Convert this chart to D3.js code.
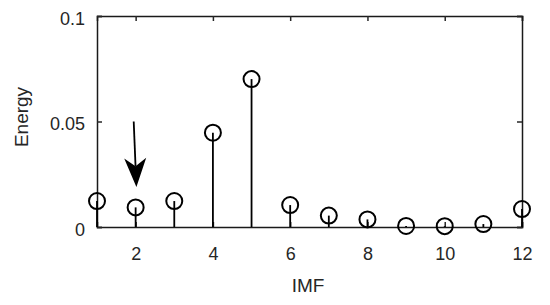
<!DOCTYPE html>
<html>
<head>
<meta charset="utf-8">
<script src="https://cdn.jsdelivr.net/npm/d3@7.9.0/dist/d3.min.js"></script>
<style>
  body { margin: 0; background: #fff; }
  text { font-family: "Liberation Sans", Arial, sans-serif; fill: #262626; }
</style>
</head>
<body>
<div id="chart"></div>
<script>
const imf = [1, 2, 3, 4, 5, 6, 7, 8, 9, 10, 11, 12];
const energy = [0.0123, 0.0093, 0.0123, 0.0447, 0.0701, 0.0104, 0.0054, 0.0036, 0.0005, 0.0004, 0.0014, 0.0085];
const xTicks = [2, 4, 6, 8, 10, 12];
const yTicks = [0, 0.05, 0.1];
// arrow pointing at IMF 2 (data coords)
const arrow = { x1: 1.95, y1: 0.05, x2: 2.02, y2: 0.0189 };

const width = 550, height = 305;
const margin = { top: 16, right: 28, bottom: 78, left: 97 };

const svg = d3.select('#chart').append('svg')
  .attr('width', width).attr('height', height);

const x = d3.scaleLinear().domain([1, 12]).range([margin.left, width - margin.right]);
const y = d3.scaleLinear().domain([0, 0.1]).range([height - margin.bottom, margin.top]);

const fmt = (d) => d === 0 ? '0' : String(d);

// axes
svg.append('g')
  .attr('transform', `translate(0, ${y(0)})`)
  .call(d3.axisBottom(x).tickValues(xTicks).tickSize(-5).tickPadding(20))
  .call((g) => g.selectAll('text').attr('font-size', 18));
svg.append('g')
  .attr('transform', `translate(0, ${y(0.1)})`)
  .call(d3.axisTop(x).tickValues(xTicks).tickSize(-5).tickFormat(''));
svg.append('g')
  .attr('transform', `translate(${x(1)}, 0)`)
  .call(d3.axisLeft(y).tickValues(yTicks).tickSize(-5).tickPadding(12).tickFormat(fmt))
  .call((g) => g.selectAll('text').attr('font-size', 18).attr('dy', '0.45em'));
svg.append('g')
  .attr('transform', `translate(${x(12)}, 0)`)
  .call(d3.axisRight(y).tickValues(yTicks).tickSize(-5).tickFormat(''));

svg.selectAll('.domain, .tick line')
  .attr('stroke', '#262626').attr('stroke-width', 1.5);
svg.selectAll('.domain').attr('stroke', '#1a1a1a');

// stems
svg.append('g').selectAll('line')
  .data(imf)
  .join('line')
  .attr('x1', (d) => x(d)).attr('x2', (d) => x(d))
  .attr('y1', y(0)).attr('y2', (d, i) => y(energy[i]))
  .attr('stroke', '#000').attr('stroke-width', 1.8);

// markers
svg.append('g').selectAll('circle')
  .data(imf)
  .join('circle')
  .attr('cx', (d) => x(d))
  .attr('cy', (d, i) => y(energy[i]))
  .attr('r', 8)
  .attr('fill', 'none')
  .attr('stroke', '#000')
  .attr('stroke-width', 2);

// arrow
const ax1 = x(arrow.x1), ay1 = y(arrow.y1), ax2 = x(arrow.x2), ay2 = y(arrow.y2);
const ang = Math.atan2(ay2 - ay1, ax2 - ax1);
const hl = 29, hw = 11;
const bx = ax2 - hl * Math.cos(ang), by = ay2 - hl * Math.sin(ang);
const nx = -Math.sin(ang), ny = Math.cos(ang);
const notch = 8;
const mx = ax2 - (hl - notch) * Math.cos(ang), my = ay2 - (hl - notch) * Math.sin(ang);
svg.append('line')
  .attr('x1', ax1).attr('y1', ay1).attr('x2', mx).attr('y2', my)
  .attr('stroke', '#000').attr('stroke-width', 1.8);
svg.append('path')
  .attr('d', `M${ax2},${ay2} L${bx + nx * hw},${by + ny * hw} L${mx},${my} L${bx - nx * hw},${by - ny * hw} Z`)
  .attr('fill', '#000');

// labels
svg.append('text')
  .attr('x', 308).attr('y', 292)
  .attr('text-anchor', 'middle').attr('font-size', 19)
  .text('IMF');
svg.append('text')
  .attr('transform', `translate(28, 117) rotate(-90)`)
  .attr('text-anchor', 'middle').attr('font-size', 19)
  .text('Energy');
</script>
</body>
</html>
